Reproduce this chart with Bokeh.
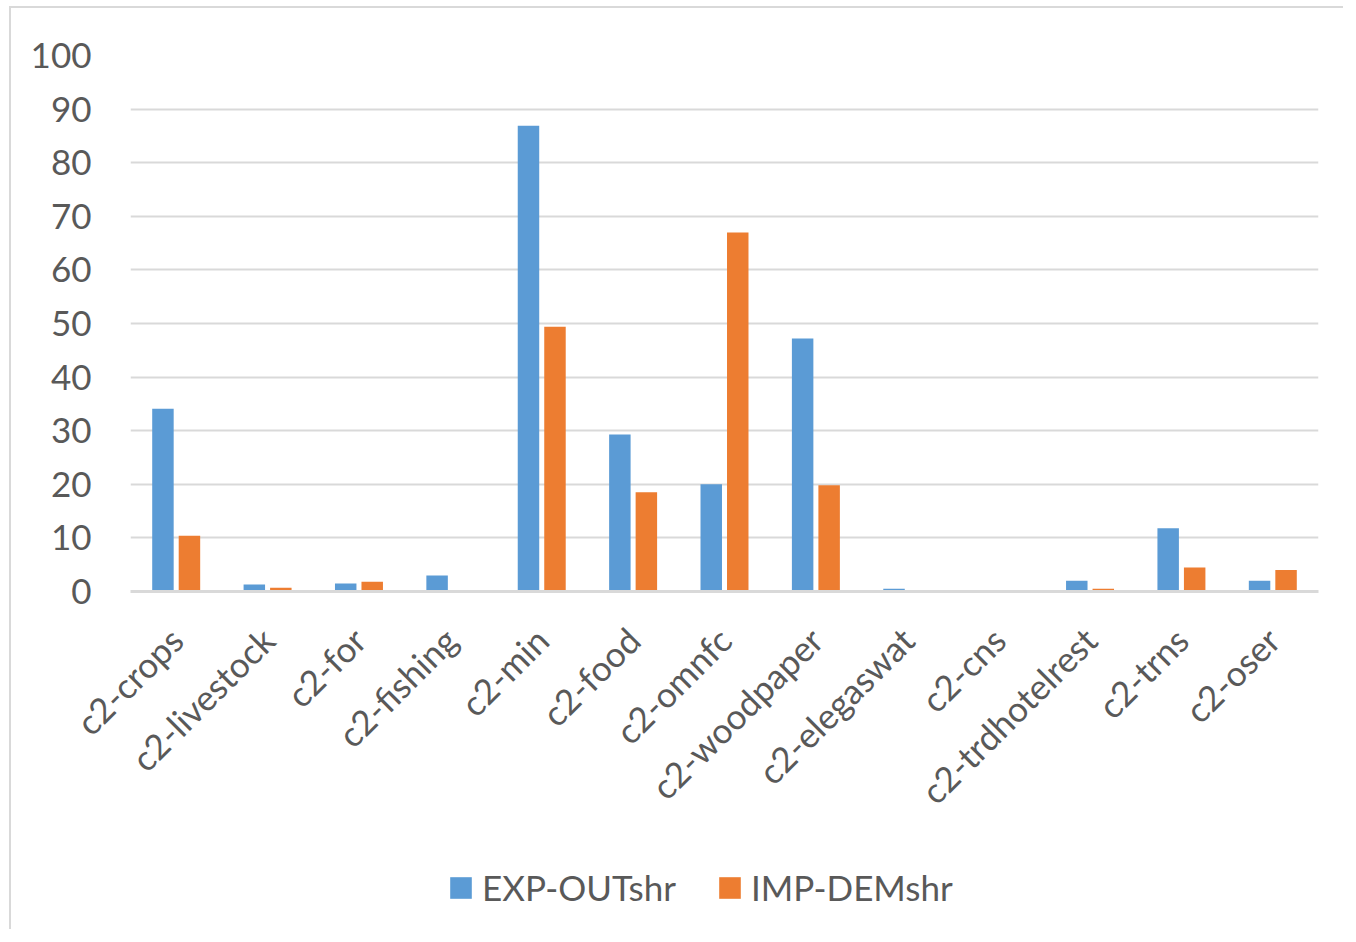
import math
from bokeh.plotting import figure
from bokeh.layouts import column
from bokeh.models import FactorRange, Legend, LegendItem, ColumnDataSource, SingleIntervalTicker
from bokeh.transform import dodge
from bokeh.embed import file_html
from bokeh.resources import INLINE

categories = ["c2-crops", "c2-livestock", "c2-for", "c2-fishing", "c2-min", "c2-food",
              "c2-omnfc", "c2-woodpaper", "c2-elegaswat", "c2-cns", "c2-trdhotelrest",
              "c2-trns", "c2-oser"]
exp_outshr = [34.1, 1.3, 1.5, 3.0, 86.9, 29.3, 20.0, 47.2, 0.5, 0.0, 2.0, 11.8, 2.0]
imp_demshr = [10.4, 0.7, 1.8, 0.3, 49.4, 18.5, 67.0, 19.8, 0.3, 0.2, 0.5, 4.5, 4.0]
series_names = ["EXP-OUTshr", "IMP-DEMshr"]
colors = ["#5b9bd5", "#ed7d31"]

FONT = "Lato"
TXT = "#595959"
GRID = "#d9d9d9"
FS = "35px"

src = ColumnDataSource(dict(cat=categories, exp=exp_outshr, imp=imp_demshr))

p = figure(x_range=FactorRange(*categories, range_padding=0), y_range=(0, 100),
           frame_width=1188, frame_height=536, output_backend="svg", toolbar_location=None,
           min_border_left=119, min_border_right=25, min_border_top=47, min_border_bottom=0)
p.outline_line_color = None

p.vbar(x=dodge("cat", -0.145, range=p.x_range), top="exp", width=0.235, source=src,
       fill_color=colors[0], line_color=None)
p.vbar(x=dodge("cat", 0.145, range=p.x_range), top="imp", width=0.235, source=src,
       fill_color=colors[1], line_color=None)

p.yaxis.ticker = SingleIntervalTicker(interval=10)
p.yaxis.axis_line_color = None
p.yaxis.major_tick_line_color = None
p.yaxis.minor_tick_line_color = None
p.yaxis.major_label_text_font = FONT
p.yaxis.major_label_text_font_size = FS
p.yaxis.major_label_text_color = TXT
p.yaxis.major_label_standoff = 33

p.xaxis.axis_line_color = GRID
p.xaxis.axis_line_width = 3
p.xaxis.major_tick_line_color = None
p.xaxis.minor_tick_line_color = None
p.xaxis.major_label_orientation = math.pi / 4
p.xaxis.major_label_text_font = FONT
p.xaxis.major_label_text_font_size = FS
p.xaxis.major_label_text_color = TXT
p.xaxis.major_label_standoff = 36

p.xgrid.grid_line_color = None
p.ygrid.grid_line_color = GRID
p.ygrid.grid_line_width = 2

# legend strip below the chart (zero-height proxy bars carry the legend swatches)
q = figure(width=1332, height=100, x_range=(0, 1), y_range=(0, 1),
           output_backend="svg", toolbar_location=None,
           min_border_left=0, min_border_right=0, min_border_top=0, min_border_bottom=0)
q.axis.visible = False
q.grid.visible = False
q.outline_line_color = None
lr1 = q.vbar(x=[0.5], top=[0], width=0.01, fill_color=colors[0], line_color=None)
lr2 = q.vbar(x=[0.5], top=[0], width=0.01, fill_color=colors[1], line_color=None)

legend = Legend(items=[LegendItem(label=series_names[0], renderers=[lr1]),
                       LegendItem(label=series_names[1], renderers=[lr2])],
                orientation="horizontal", location=(317, 21),
                label_text_font=FONT, label_text_font_size=FS, label_text_color=TXT,
                glyph_width=27, glyph_height=27, spacing=40, border_line_color=None,
                background_fill_alpha=0, margin=0, padding=5, label_standoff=8)
q.add_layout(legend, "center")

layout = column(p, q, spacing=0)
layout.styles = {"margin-left": "9px", "margin-top": "6px",
                 "border-left": "2px solid #d9d9d9", "border-top": "2px solid #d9d9d9"}

open("out.html", "w").write(file_html(layout, INLINE))
